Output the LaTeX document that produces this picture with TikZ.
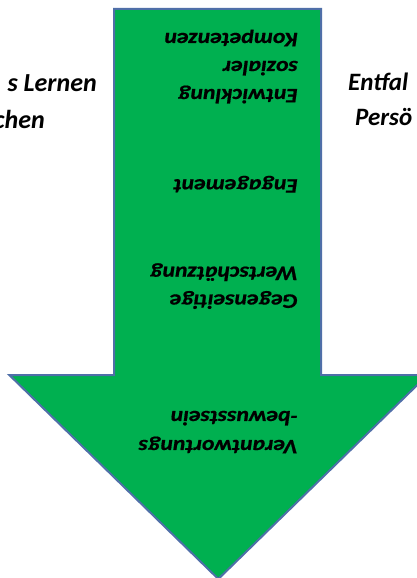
\documentclass[tikz,border=0pt]{standalone}
\usepackage{fontspec}
\setmainfont{Carlito}
\newfontface\innerface[FakeBold=0.6]{Carlito Bold Italic}
\definecolor{arrowgreen}{HTML}{00B050}
\definecolor{arrowline}{HTML}{4F6FA8}
\newcommand{\stretchtxt}[1]{\scalebox{1.15}[1]{#1}}
\begin{document}
\begin{tikzpicture}[x=1pt,y=-1pt,
  inlabel/.style={rotate=180, anchor=base west, inner sep=0pt,
    font=\fontsize{20.6}{24}\innerface},
  outlabel/.style={inner sep=0pt,
    font=\fontsize{26}{31}\selectfont\bfseries\itshape},
  arrowshape/.style={fill=arrowgreen, draw=arrowline, line width=2pt, line join=miter}]
\clip (0,0) rectangle (417,578);
\fill[white] (0,0) rectangle (417,578);
% big arrow
\path[arrowshape] (114,9) coordinate (tl) -- (321,9) coordinate (tr)
  -- (321,375) coordinate (sr) -- (427.5,375) coordinate (hr)
  -- (218.3,579) coordinate (tip) -- (9.3,375) coordinate (hl)
  -- (114,375) coordinate (sl) -- cycle;
% upside-down labels inside the arrow
\node[inlabel] (k1) at (298,33) {\stretchtxt{Kompetenzen}};
\node[inlabel] (k2) at (298,61) {\stretchtxt{sozialer}};
\node[inlabel] (k3) at (298,89) {\stretchtxt{Entwicklung}};
\node[inlabel] (e1) at (298,179.3) {\stretchtxt{Engagement}};
\node[inlabel] (w1) at (298,266.7) {\stretchtxt{Wertschätzung}};
\node[inlabel] (w2) at (298,294.5) {\stretchtxt{Gegenseitige}};
\node[inlabel] (v1) at (298,411) {\stretchtxt{-bewusstsein}};
\node[inlabel] (v2) at (298,440) {\stretchtxt{Verantwortungs}};
% cut-off side labels
\node[outlabel, anchor=base east] (l1) at (97,92) {s Lernen};
\node[outlabel, anchor=base east] (l2) at (45,128) {chen};
\node[outlabel, anchor=base west, font=\fontsize{25}{30}\selectfont\bfseries\itshape] (r1) at (348,90) {Entfal};
\node[outlabel, anchor=base west, font=\fontsize{25}{30}\selectfont\bfseries\itshape] (r2) at (355,125) {Persö};
\end{tikzpicture}
\end{document}
